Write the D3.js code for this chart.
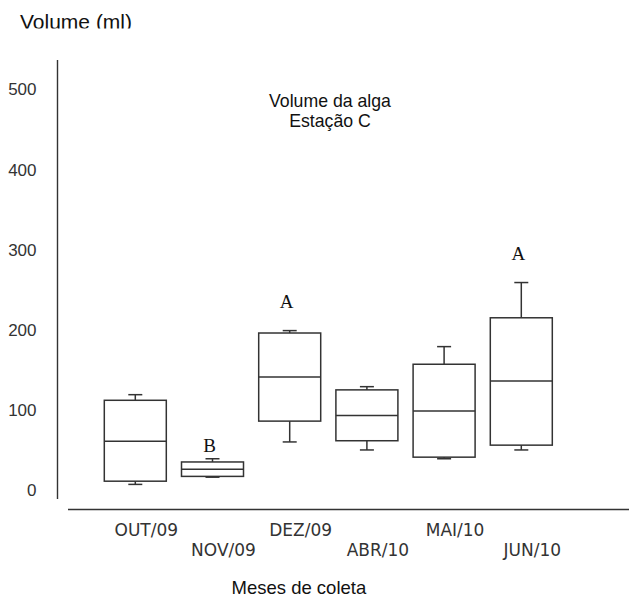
<!DOCTYPE html>
<html>
<head>
<meta charset="utf-8">
<script src="https://cdn.jsdelivr.net/npm/d3@7"></script>
<style>
  body { margin: 0; background: #fff; }
  svg { display: block; }
</style>
</head>
<body>
<div id="chart"></div>
<script>
// data
var months = ["OUT/09", "NOV/09", "DEZ/09", "ABR/10", "MAI/10", "JUN/10"];
var whiskerLow = [7, 16, 60, 50, 39, 50];
var q1 = [11, 17, 86, 61.5, 41, 56];
var median = [61, 26, 141, 93, 98.5, 136];
var q3 = [112, 35, 196, 125, 157, 215];
var whiskerHigh = [119, 39, 199, 129, 179, 259];
var letters = ["", "B", "A", "", "", "A"];
var letterAt = [null, 56, 236, null, null, 296];
var yTicks = [0, 100, 200, 300, 400, 500];

var width = 629, height = 596;
var ink = "#333";

var svg = d3.select("#chart")
    .append("svg")
    .attr("width", width)
    .attr("height", height);

var x = d3.scalePoint()
    .domain(months)
    .range([135.3, 521.3]);

var y = d3.scaleLinear()
    .domain([0, 500])
    .range([490, 89.5]);

var boxW = 62, capW = 14;

// axis lines
svg.append("line")
    .attr("x1", 57.5).attr("x2", 57.5)
    .attr("y1", 60).attr("y2", 499)
    .attr("stroke", ink).attr("stroke-width", 1.4);
svg.append("line")
    .attr("x1", 68).attr("x2", 629)
    .attr("y1", 509.5).attr("y2", 509.5)
    .attr("stroke", ink).attr("stroke-width", 1.4);

// Y tick labels
var yAxis = svg.append("g")
    .attr("transform", "translate(57.5,0)")
    .call(d3.axisLeft(y).tickValues(yTicks).tickSize(0).tickPadding(21));
yAxis.select(".domain").remove();
yAxis.selectAll("text")
    .style("font-family", "'Liberation Sans', Arial, sans-serif")
    .style("font-size", "17px")
    .attr("fill", ink);

// X labels, staggered in two rows
svg.selectAll("text.month")
    .data(months)
    .enter()
    .append("text")
    .attr("class", "month")
    .attr("x", d => x(d) + 11)
    .attr("y", (d, i) => i % 2 === 0 ? 529.5 : 549.5)
    .attr("dy", "0.36em")
    .attr("text-anchor", "middle")
    .style("font-family", "'DejaVu Sans', sans-serif")
    .style("font-size", "17px")
    .attr("fill", ink)
    .text(d => d);

// boxes
var gbox = svg.selectAll("g.box")
    .data(months)
    .enter()
    .append("g")
    .attr("class", "box")
    .attr("stroke", ink)
    .attr("stroke-width", 1.5)
    .attr("fill", "none");

gbox.append("line")
    .attr("x1", d => x(d)).attr("x2", d => x(d))
    .attr("y1", (d, i) => y(q3[i])).attr("y2", (d, i) => y(whiskerHigh[i]));
gbox.append("line")
    .attr("x1", d => x(d)).attr("x2", d => x(d))
    .attr("y1", (d, i) => y(q1[i])).attr("y2", (d, i) => y(whiskerLow[i]));
gbox.append("line")
    .attr("x1", d => x(d) - capW / 2).attr("x2", d => x(d) + capW / 2)
    .attr("y1", (d, i) => y(whiskerHigh[i])).attr("y2", (d, i) => y(whiskerHigh[i]));
gbox.append("line")
    .attr("x1", d => x(d) - capW / 2).attr("x2", d => x(d) + capW / 2)
    .attr("y1", (d, i) => y(whiskerLow[i])).attr("y2", (d, i) => y(whiskerLow[i]));
gbox.append("rect")
    .attr("x", d => x(d) - boxW / 2)
    .attr("width", boxW)
    .attr("y", (d, i) => y(q3[i]))
    .attr("height", (d, i) => y(q1[i]) - y(q3[i]));
gbox.append("line")
    .attr("x1", d => x(d) - boxW / 2).attr("x2", d => x(d) + boxW / 2)
    .attr("y1", (d, i) => y(median[i])).attr("y2", (d, i) => y(median[i]));

// significance letters
svg.selectAll("text.letter")
    .data(months.filter((d, i) => letters[i] !== ""))
    .enter()
    .append("text")
    .attr("class", "letter")
    .attr("x", d => x(d) - 3)
    .attr("y", d => y(letterAt[months.indexOf(d)]))
    .attr("dy", "0.35em")
    .attr("text-anchor", "middle")
    .style("font-family", "'Liberation Serif', 'Times New Roman', serif")
    .style("font-size", "19px")
    .attr("fill", "#111")
    .text(d => letters[months.indexOf(d)]);

// titles
var title = svg.append("text")
    .attr("text-anchor", "middle")
    .style("font-family", "'Liberation Sans', Arial, sans-serif")
    .style("font-size", "17.7px")
    .attr("fill", "#111");
title.append("tspan").attr("x", 330).attr("y", 107).text("Volume da alga");
title.append("tspan").attr("x", 330).attr("y", 126.5).text("Estação C");

svg.append("clipPath").attr("id", "topclip")
    .append("rect").attr("x", 0).attr("y", 0).attr("width", 200).attr("height", 28.5);
svg.append("text")
    .attr("x", 20).attr("y", 29)
    .attr("clip-path", "url(#topclip)")
    .style("font-family", "'Liberation Sans', Arial, sans-serif")
    .style("font-size", "21px")
    .attr("fill", "#111")
    .text("Volume (ml)");

svg.append("text")
    .attr("x", 231.5).attr("y", 593.5)
    .style("font-family", "'Liberation Sans', Arial, sans-serif")
    .style("font-size", "18.5px")
    .attr("fill", "#111")
    .text("Meses de coleta");
</script>
</body>
</html>
